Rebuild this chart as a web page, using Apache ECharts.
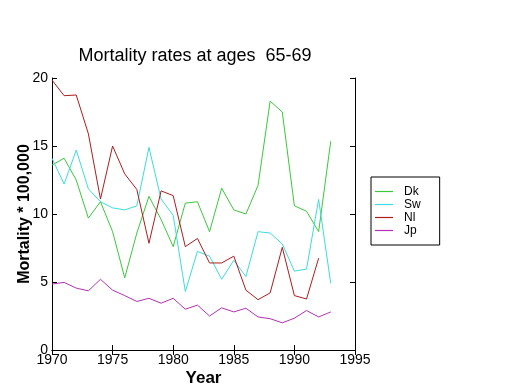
<!DOCTYPE html>
<html>
<head>
<meta charset="utf-8">
<script src="https://cdn.jsdelivr.net/npm/echarts@6/dist/echarts.min.js"></script>
<style>html,body{margin:0;padding:0;background:#fff}#c{width:520px;height:390px}</style>
</head>
<body>
<div id="c"></div>
<script>
const years = [1970,1971,1972,1973,1974,1975,1976,1977,1978,1979,1980,1981,1982,1983,1984,1985,1986,1987,1988,1989,1990,1991,1992,1993];
const dk = [13.6,14.1,12.5,9.7,10.9,8.7,5.3,8.6,11.3,9.6,7.6,10.8,10.9,8.7,11.9,10.3,10.0,12.1,18.3,17.5,10.6,10.2,8.7,15.35];
const sw = [14.1,12.2,14.7,11.85,10.9,10.45,10.3,10.6,14.9,11.1,9.9,4.3,7.25,6.9,5.2,6.6,5.4,8.7,8.6,7.8,5.8,5.95,11.07,4.9];
const nl = [19.85,18.7,18.75,15.9,11.1,15.0,12.95,11.8,7.85,11.7,11.35,7.6,8.2,6.4,6.4,6.9,4.4,3.7,4.2,7.55,4.0,3.75,6.75,null];
const jp = [4.85,4.97,4.55,4.35,5.2,4.4,4.0,3.57,3.8,3.44,3.8,3.0,3.3,2.5,3.1,2.8,3.07,2.43,2.3,2.0,2.34,2.9,2.43,2.8];
const seriesNames = ['Dk','Sw','Nl','Jp'];
const colors = ['#3cc83c','#3cdcdc','#aa1e1e','#b432b4'];
const xTicks = [1970,1975,1980,1985,1990,1995];
const yTicks = [0,5,10,15,20];

const font = 'Liberation Sans, Arial, sans-serif';
const chart = echarts.init(document.getElementById('c'), null, {renderer:'canvas'});
const pair = arr => years.map((y,i) => [y, arr[i]]);
const data = [dk, sw, nl, jp];
const axisCommon = {
  axisLine:{show:true, lineStyle:{color:'#000', width:1}},
  axisTick:{show:true, inside:true, length:5, lineStyle:{color:'#000'}},
  splitLine:{show:false}
};
chart.setOption({
  animation:false,
  backgroundColor:'#fff',
  title:{text:'Mortality rates at ages  65-69', left:190, top:42, textAlign:'center',
    textStyle:{fontFamily:font, fontSize:18, fontWeight:'normal', color:'#000'}},
  grid:{left:52, right:165, top:78, bottom:40, outerBoundsMode:'none', containLabel:false},
  legend:{orient:'vertical', left:371, top:177, data:seriesNames,
    borderColor:'#000', borderWidth:1, borderRadius:0, padding:[8,19,8,4],
    icon:'rect', itemWidth:18, itemHeight:1.2, itemGap:0,
    textStyle:{fontFamily:font, fontSize:12, lineHeight:13, color:'#000', padding:[0,0,0,6]}},
  xAxis:[
    Object.assign({type:'value', min:1970, max:1995, interval:5, position:'bottom',
      name:'Year', nameLocation:'middle', nameGap:20, nameMoveOverlap:false,
      nameTextStyle:{fontFamily:font, fontSize:17, fontWeight:'bold', color:'#000'},
      axisLabel:{fontFamily:font, fontSize:14, color:'#000', margin:3, formatter:v => String(v)}}, axisCommon),
    Object.assign({type:'value', min:1970, max:1995, interval:5, position:'top',
      axisLabel:{show:false}}, axisCommon)
  ],
  yAxis:[
    Object.assign({type:'value', min:0, max:20, interval:5, position:'left',
      name:'Mortality * 100,000', nameLocation:'middle', nameGap:19, nameMoveOverlap:false,
      nameTextStyle:{fontFamily:font, fontSize:16, fontWeight:'bold', color:'#000'},
      axisLabel:{fontFamily:font, fontSize:14, color:'#000', margin:4}}, axisCommon),
    Object.assign({type:'value', min:0, max:20, interval:5, position:'right',
      axisLabel:{show:false}}, axisCommon)
  ],
  series: seriesNames.map((n,i) => ({
    name:n, type:'line', data:pair(data[i]), symbol:'none', showSymbol:false,
    lineStyle:{width:1, color:colors[i]}, itemStyle:{color:colors[i]}, connectNulls:false
  }))
});
</script>
</body>
</html>
